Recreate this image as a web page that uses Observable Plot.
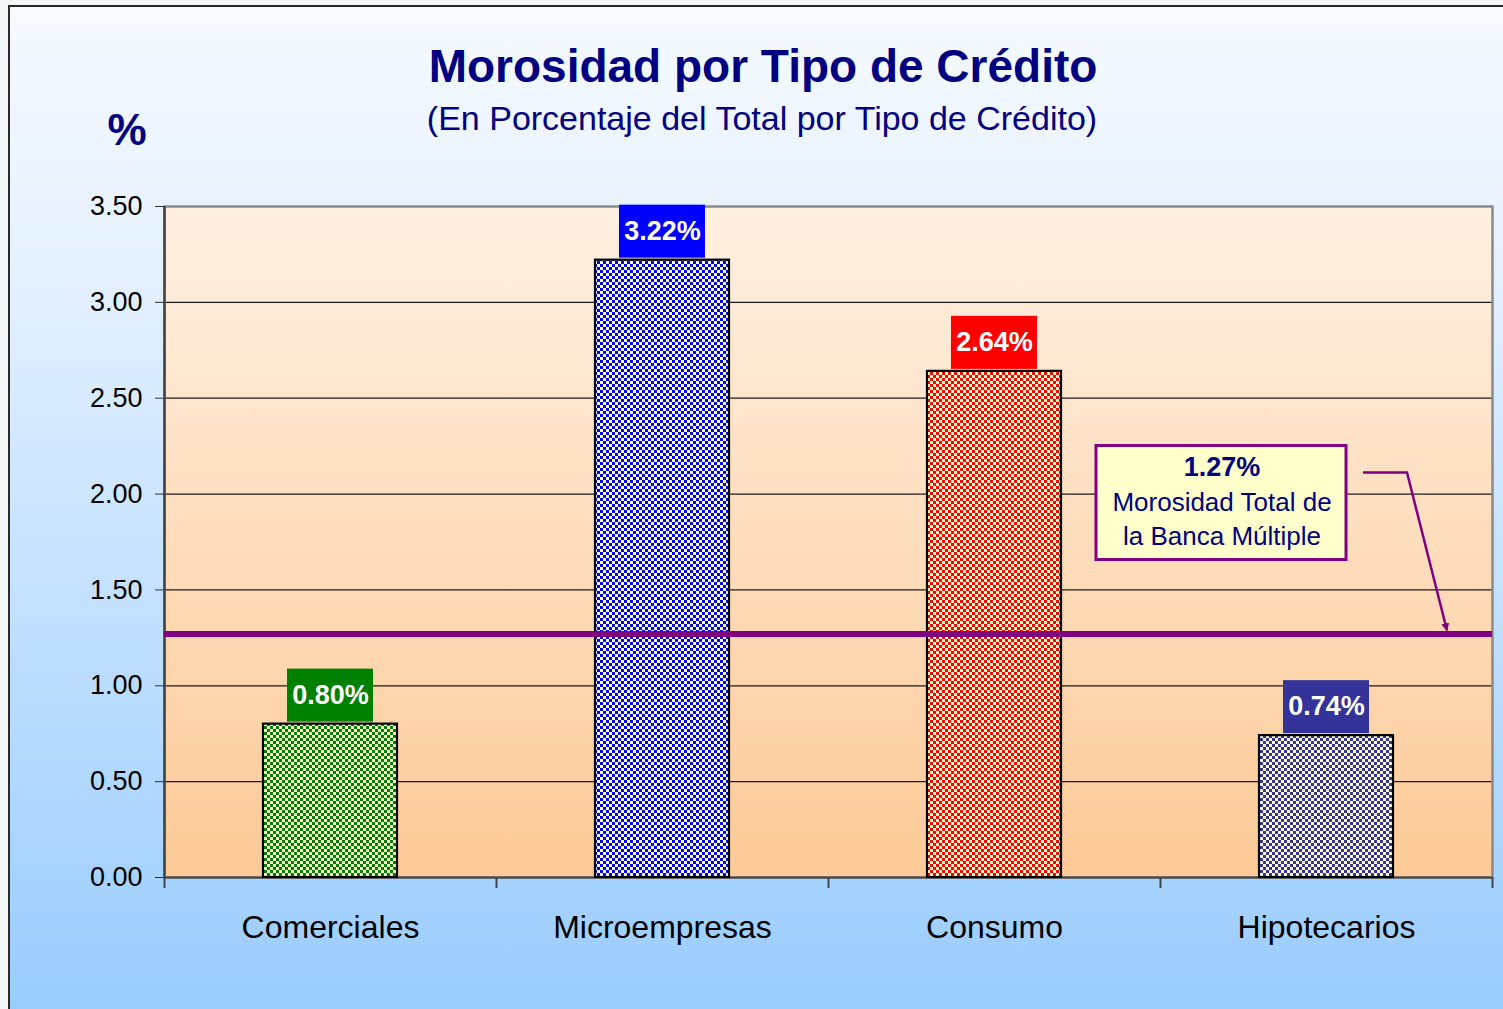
<!DOCTYPE html>
<html>
<head>
<meta charset="utf-8">
<script src="https://cdn.jsdelivr.net/npm/d3@7"></script>
<script src="https://cdn.jsdelivr.net/npm/@observablehq/plot@0.6"></script>
<style>
  html, body { margin: 0; padding: 0; width: 1503px; height: 1009px; overflow: hidden; background: #f3f7f7; font-family: "Liberation Sans", Arial, sans-serif; }
  #frame { position: absolute; left: 8px; top: 5px; width: 1500px; height: 1010px; box-sizing: border-box;
    border-left: 2px solid #2a2a2a; border-top: 2px solid #2a2a2a;
    background: linear-gradient(to bottom, #f6faff 0%, #e6f1ff 25%, #c2e0ff 60%, #99ccff 100%); }
  #chart { position: absolute; left: 0; top: 0; }
  .t { position: absolute; color: #000080; white-space: nowrap; transform: translateX(-50%); line-height: 1; }
  #title { left: 763px; top: 43px; font-size: 46px; font-weight: bold; }
  #subtitle { left: 762px; top: 101px; font-size: 34px; }
  #unit { left: 127px; top: 108px; font-size: 44px; font-weight: bold; }
</style>
</head>
<body>
<div id="frame"></div>
<div id="chart"></div>
<div class="t" id="title">Morosidad por Tipo de Crédito</div>
<div class="t" id="subtitle">(En Porcentaje del Total por Tipo de Crédito)</div>
<div class="t" id="unit">%</div>
<script>
const categories = ["Comerciales", "Microempresas", "Consumo", "Hipotecarios"];
const values = [0.80, 3.22, 2.64, 0.74];
const barColors = ["#008000", "#0000ff", "#ff0000", "#333399"];
const yTicks = [0, 0.5, 1, 1.5, 2, 2.5, 3, 3.5];
const gridTicks = [0.5, 1, 1.5, 2, 2.5, 3];
const totalValue = 1.27;
const totalLabel = "1.27%";
const totalText = ["Morosidad Total de", "la Banca Múltiple"];

const W = 1503, H = 1009, mL = 164, mR = 11, mT = 206, mB = 132;
const halfStep = (W - mL - mR) / categories.length / 2;

const data = categories.map((c, i) => ({
  cat: c, value: values[i], color: barColors[i],
  pattern: `url(#pat${i})`, label: values[i].toFixed(2) + "%"
}));

const plot = Plot.plot({
  width: W, height: H,
  marginLeft: mL, marginRight: mR, marginTop: mT, marginBottom: mB,
  style: { background: "transparent", fontFamily: "'Liberation Sans', Arial, sans-serif", color: "black", overflow: "visible" },
  x: { domain: categories, padding: 0, label: null },
  y: { domain: [0, 3.5], label: null },
  color: { type: "identity" },
  marks: [
    Plot.frame({ fill: "url(#plotBg)", stroke: "none" }),
    Plot.ruleY(gridTicks, { stroke: "#1a1a1a", strokeWidth: 1.2 }),
    Plot.frame({ fill: "none", stroke: "#8a8a8a", strokeWidth: 2.5 }),
    Plot.ruleX([categories[0]], { dx: -halfStep, y1: 0, y2: 3.5, stroke: "#444", strokeWidth: 2.5 }),
    Plot.ruleY([0], { stroke: "#444", strokeWidth: 2 }),
    Plot.ruleX(categories, { dx: -halfStep, y1: 0, y2: 0, insetBottom: -11, stroke: "#444", strokeWidth: 2 }),
    Plot.ruleX([categories[categories.length - 1]], { dx: halfStep, y1: 0, y2: 0, insetBottom: -11, stroke: "#444", strokeWidth: 2 }),
    Plot.axisY({ ticks: yTicks, tickFormat: d => d.toFixed(2), tickSize: 9, tickPadding: 13, fontSize: 27, stroke: "#333" }),
    Plot.axisX({ tickSize: 0, tickPadding: 38, fontSize: 32 }),
    Plot.barY(data, { x: "cat", y: "value", fill: "pattern", stroke: "black", strokeWidth: 2.2, insetLeft: 99, insetRight: 99 }),
    Plot.barY(data, { x: "cat", y1: "value", y2: "value", fill: "color", insetLeft: 123, insetRight: 123, insetTop: -55, insetBottom: 2 }),
    Plot.text(data, { x: "cat", y: "value", text: "label", dy: -29, fill: "white", fontSize: 27, fontWeight: "bold" }),
    Plot.ruleY([totalValue], { stroke: "#800080", strokeWidth: 6 })
  ]
});

document.getElementById("chart").appendChild(plot);

const svg = d3.select(plot);
const defs = svg.insert("defs", ":first-child");
const g = defs.append("linearGradient").attr("id", "plotBg").attr("x1", 0).attr("y1", 0).attr("x2", 0).attr("y2", 1);
g.append("stop").attr("offset", "0%").attr("stop-color", "#fff0e2");
g.append("stop").attr("offset", "100%").attr("stop-color", "#fdca97");
barColors.forEach((c, i) => {
  const p = defs.append("pattern").attr("id", `pat${i}`).attr("patternUnits", "userSpaceOnUse")
    .attr("width", 6).attr("height", 6);
  p.append("rect").attr("width", 6).attr("height", 6).attr("fill", "#ffffcc");
  p.append("rect").attr("x", 0).attr("y", 0).attr("width", 3).attr("height", 3).attr("fill", c);
  p.append("rect").attr("x", 3).attr("y", 3).attr("width", 3).attr("height", 3).attr("fill", c);
});
const m = defs.append("marker").attr("id", "arrowHead").attr("viewBox", "0 0 10 10")
  .attr("refX", 9).attr("refY", 5).attr("markerWidth", 8).attr("markerHeight", 8)
  .attr("markerUnits", "userSpaceOnUse").attr("orient", "auto");
m.append("path").attr("d", "M0,0L10,5L0,10z").attr("fill", "#800080");

// annotation box and arrow, placed relative to the scales
const xs = plot.scale("x"), ys = plot.scale("y");
const bandStart = xs.apply(categories[3]);
const yLine = ys.apply(totalValue);
const bx = bandStart - 64, by = yLine - 188, bw = 250, bh = 114;
const ann = svg.append("g");
ann.append("rect").attr("x", bx).attr("y", by).attr("width", bw).attr("height", bh)
  .attr("fill", "#ffffcc").attr("stroke", "#800080").attr("stroke-width", 3);
const cx = bx + bw / 2 + 1;
ann.append("text").attr("x", cx).attr("y", by + 30).attr("text-anchor", "middle")
  .attr("fill", "#000080").attr("font-size", 27).attr("font-weight", "bold").text(totalLabel);
totalText.forEach((t, i) => {
  ann.append("text").attr("x", cx).attr("y", by + 65 + i * 34).attr("text-anchor", "middle")
    .attr("fill", "#000080").attr("font-size", 26).text(t);
});
const rightEdge = W - mR;
ann.append("path")
  .attr("d", `M${bx + bw + 17},${by + 27}H${bx + bw + 61}L${rightEdge - 45},${yLine - 3}`)
  .attr("fill", "none").attr("stroke", "#800080").attr("stroke-width", 2.5)
  .attr("marker-end", "url(#arrowHead)");
</script>
</body>
</html>
